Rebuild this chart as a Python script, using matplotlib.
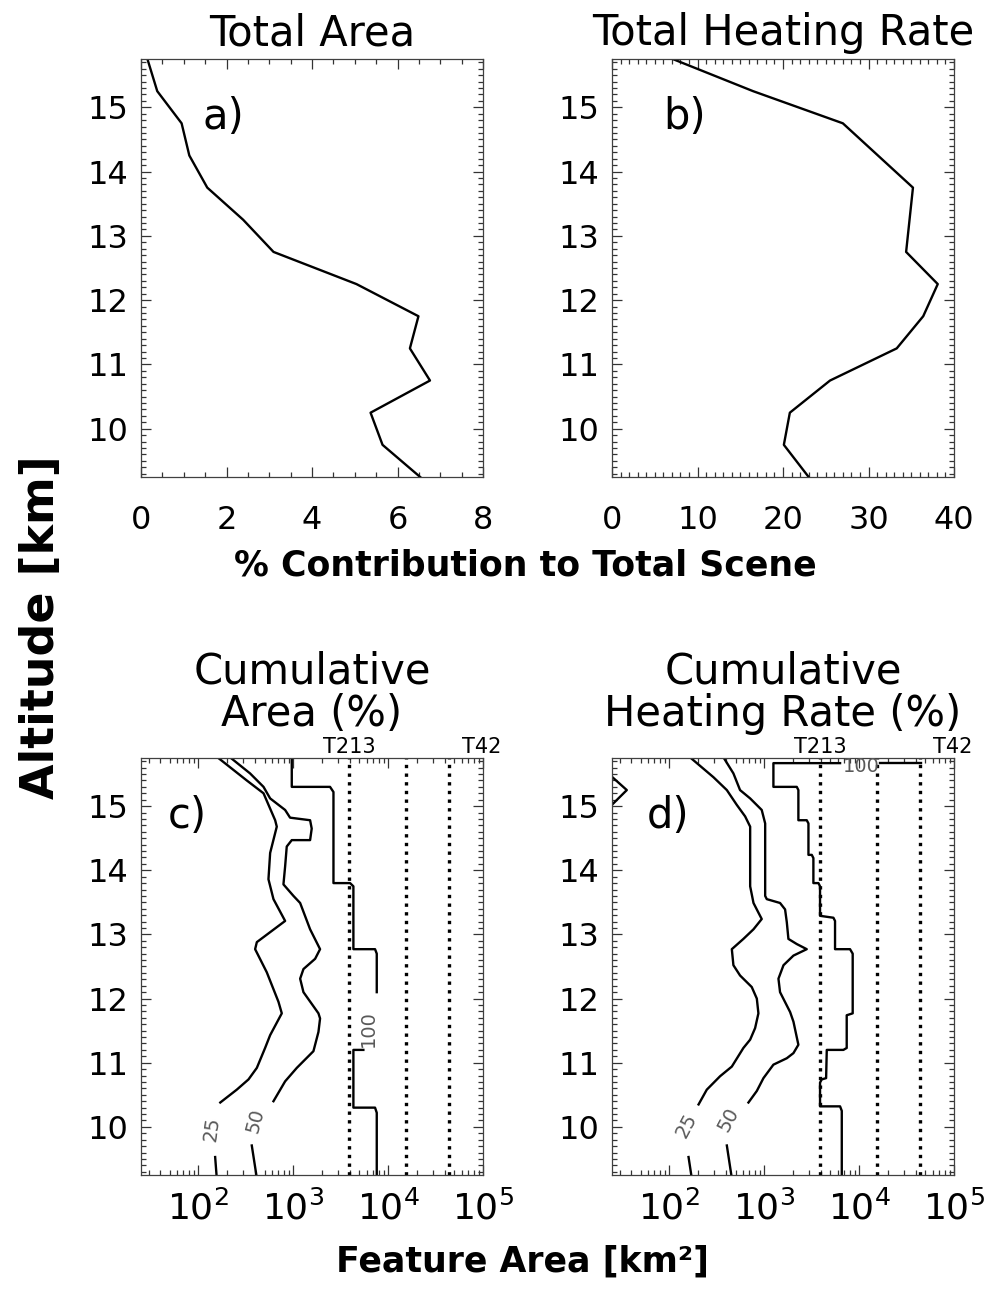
import numpy as np
import matplotlib
matplotlib.use("Agg")
import matplotlib.pyplot as plt
from matplotlib.ticker import MultipleLocator, LogLocator, FixedLocator, NullFormatter

# altitude levels (km) for the two profile panels
alt_levels = [9.25, 9.75, 10.25, 10.75, 11.25, 11.75, 12.25, 12.75,
              13.25, 13.75, 14.25, 14.75, 15.25, 15.75]
area_pct = [6.53, 5.65, 5.37, 6.76, 6.29, 6.49, 5.04, 3.10,
            2.39, 1.55, 1.13, 0.95, 0.38, 0.15]
heat_pct = [23.0, 20.1, 20.8, 25.5, 33.3, 36.4, 38.1, 34.4,
            34.8, 35.2, 31.1, 27.0, 16.5, 7.1]

# model grid box areas (km^2) shown as dotted lines
res_area = [3906, 15625, 43403]
res_label_names = ['T213', 'T42']
res_label_area = [3906, 97656]

# panel c contours (feature area km^2 vs altitude km)
c25_area = [160, 325, 488, 647, 673, 573, 550, 621, 824, 415, 398, 528, 701,
            760, 573, 507, 415, 339, 255, 171]
c25_alt = [15.76, 15.40, 15.20, 14.78, 14.68, 14.27, 13.86, 13.55, 13.21, 12.88,
           12.77, 12.41, 11.95, 11.77, 11.43, 11.23, 10.92, 10.74, 10.58, 10.38]
c25b_area = [151, 157]
c25b_alt = [9.53, 9.20]
c50_area = [217, 352, 488, 573, 824, 929, 1510, 1570, 1510, 968, 857, 824, 791,
            1009, 1186, 1510, 1923, 1706, 1285, 1186, 1285, 1849, 1923, 1849,
            1637, 1094, 824, 621]
c50_alt = [15.76, 15.51, 15.30, 15.12, 14.94, 14.82, 14.78, 14.65, 14.47, 14.47,
           14.37, 14.06, 13.78, 13.60, 13.49, 13.08, 12.77, 12.62, 12.46, 12.31,
           12.10, 11.77, 11.69, 11.48, 11.18, 10.92, 10.71, 10.40]
c50b_area = [367, 415]
c50b_alt = [9.71, 9.20]
c100_area = [968, 968, 2449, 2661, 2661, 3981, 4315, 4315, 7295, 7603, 7603]
c100_alt = [15.80, 15.30, 15.30, 15.22, 13.80, 13.80, 13.75, 12.77, 12.77, 12.70, 12.10]
c100b_area = [5495, 4315, 4315, 7295, 7603, 7603]
c100b_alt = [11.20, 11.20, 10.30, 10.30, 10.22, 9.20]

# panel d contours
d25s_area = [22, 35.8, 22]
d25s_alt = [15.53, 15.25, 14.94]
d25_area = [166, 293, 405, 515, 631, 713, 713, 773, 871, 944, 773, 605, 457, 475,
            558, 741, 838, 871, 804, 713, 605, 457, 344, 249, 204]
d25_alt = [15.76, 15.45, 15.25, 15.02, 14.84, 14.68, 13.75, 13.49, 13.34, 13.24,
           13.08, 12.93, 12.77, 12.52, 12.36, 12.18, 12.00, 11.77, 11.54, 11.36,
           11.23, 10.94, 10.79, 10.58, 10.35]
d25b_area = [160, 173]
d25b_alt = [9.53, 9.20]
d50_area = [373, 475, 558, 713, 944, 1026, 1026, 1067, 1472, 1663, 1734, 1803,
            2208, 2812, 2037, 1600, 1416, 1472, 1879, 2037, 2296, 2037, 1734,
            1253, 984, 838, 684]
d50_alt = [15.76, 15.51, 15.25, 15.12, 14.94, 14.73, 13.60, 13.55, 13.49, 13.39,
           13.19, 12.93, 12.85, 12.77, 12.67, 12.52, 12.31, 12.10, 11.79, 11.64,
           11.28, 11.15, 11.07, 10.97, 10.76, 10.56, 10.38]
d50b_area = [405, 457]
d50b_alt = [9.71, 9.20]
d100_area = [6310, 1253, 1253, 2208, 2296, 2296, 2812, 2931, 2931, 3177, 3304,
             3304, 3733, 3882, 3882, 5370, 5585, 5585, 8035, 8570, 8570, 7413,
             7413, 6839, 4571, 4498, 4046, 3882, 3882, 6310, 6577, 6577]
d100_alt = [15.67, 15.67, 15.30, 15.30, 15.25, 14.78, 14.78, 14.73, 14.24, 14.24,
            14.19, 13.80, 13.80, 13.75, 13.29, 13.26, 13.21, 12.77, 12.77, 12.70,
            11.77, 11.74, 11.23, 11.20, 11.20, 10.76, 10.74, 10.69, 10.32, 10.32,
            10.25, 9.20]
d100t_area = [16634, 44566]
d100t_alt = [15.67, 15.67]

plt.rcParams['font.family'] = ['DejaVu Sans']

W, H = 989, 1289
fig = plt.figure(figsize=(W / 100, H / 100), dpi=100)


def px_axes(x0, y0, x1, y1):
    return fig.add_axes([x0 / W, 1 - y1 / H, (x1 - x0) / W, (y1 - y0) / H])


ax_a = px_axes(141, 59, 483, 477)
ax_b = px_axes(612, 59, 954, 477)
ax_c = px_axes(141, 758, 483, 1175)
ax_d = px_axes(612, 758, 954, 1175)

LW = 1.7
for ax in (ax_a, ax_b, ax_c, ax_d):
    ax.set_ylim(9.25, 15.75)
    ax.yaxis.set_major_locator(FixedLocator([10, 11, 12, 13, 14, 15]))
    ax.yaxis.set_minor_locator(MultipleLocator(0.1))
    ax.tick_params(which='both', direction='in', top=True, right=True, width=0.9,
                   color='0.2')
    ax.tick_params(which='major', length=7, labelsize=23)
    ax.tick_params(which='minor', length=3.5)
    ax.tick_params(axis='y', pad=9)
    for s in ax.spines.values():
        s.set_linewidth(0.9)
        s.set_color('0.25')

# panel a
ax_a.plot(area_pct, alt_levels, color='k', lw=LW)
ax_a.set_xlim(0, 8)
ax_a.xaxis.set_major_locator(MultipleLocator(2))
ax_a.xaxis.set_minor_locator(MultipleLocator(0.5))
ax_a.tick_params(axis='x', pad=20)

# panel b
ax_b.plot(heat_pct, alt_levels, color='k', lw=LW)
ax_b.set_xlim(0, 40)
ax_b.xaxis.set_major_locator(MultipleLocator(10))
ax_b.xaxis.set_minor_locator(MultipleLocator(1))
ax_b.tick_params(axis='x', pad=20)

# panels c, d
lab_col = '0.35'
for ax in (ax_c, ax_d):
    ax.set_xscale('log')
    ax.set_xlim(25, 1e5)
    ax.xaxis.set_major_locator(LogLocator(base=10, numticks=10))
    ax.xaxis.set_minor_locator(LogLocator(base=10, subs=np.arange(2, 10), numticks=20))
    ax.xaxis.set_minor_formatter(NullFormatter())
    ax.tick_params(axis='x', pad=11, labelsize=26)
    for r in res_area:
        ax.axvline(r, color='k', lw=2.4, ls=(0, (1, 1.6)), dash_capstyle='butt')
    for name, r in zip(res_label_names, res_label_area):
        ax.text(r, 1.003, name, transform=ax.get_xaxis_transform(), ha='center',
                va='bottom', fontsize=15)

ax_c.plot(c25_area, c25_alt, 'k', lw=LW)
ax_c.plot(c25b_area, c25b_alt, 'k', lw=LW)
ax_c.plot(c50_area, c50_alt, 'k', lw=LW)
ax_c.plot(c50b_area, c50b_alt, 'k', lw=LW)
ax_c.plot(c100_area, c100_alt, 'k', lw=LW)
ax_c.plot(c100b_area, c100b_alt, 'k', lw=LW)
ax_c.text(139, 9.97, '25', rotation=82, ha='center', va='center', fontsize=14, color=lab_col)
ax_c.text(398, 10.09, '50', rotation=75, ha='center', va='center', fontsize=14, color=lab_col)
ax_c.text(6209, 11.54, '100', rotation=90, ha='center', va='center', fontsize=14, color=lab_col)

ax_d.plot(d25s_area, d25s_alt, 'k', lw=LW)
ax_d.plot(d25_area, d25_alt, 'k', lw=LW)
ax_d.plot(d25b_area, d25b_alt, 'k', lw=LW)
ax_d.plot(d50_area, d50_alt, 'k', lw=LW)
ax_d.plot(d50b_area, d50b_alt, 'k', lw=LW)
ax_d.plot(d100_area, d100_alt, 'k', lw=LW)
ax_d.plot(d100t_area, d100t_alt, 'k', lw=LW)
ax_d.text(153, 10.02, '25', rotation=62, ha='center', va='center', fontsize=14, color=lab_col)
ax_d.text(422, 10.12, '50', rotation=62, ha='center', va='center', fontsize=14, color=lab_col)
ax_d.text(10666, 15.62, '100', ha='center', va='center', fontsize=14, color=lab_col,
          clip_on=True)

# titles
tfs = 30
ax_a.text(0.5, 1.033, 'Total Area', transform=ax_a.transAxes, ha='center', va='baseline', fontsize=tfs)
ax_b.text(0.5, 1.033, 'Total Heating Rate', transform=ax_b.transAxes, ha='center', va='baseline', fontsize=tfs)
ax_c.text(0.5, 1.178, 'Cumulative', transform=ax_c.transAxes, ha='center', va='baseline', fontsize=tfs)
ax_c.text(0.5, 1.076, 'Area (%)', transform=ax_c.transAxes, ha='center', va='baseline', fontsize=tfs)
ax_d.text(0.5, 1.178, 'Cumulative', transform=ax_d.transAxes, ha='center', va='baseline', fontsize=tfs)
ax_d.text(0.5, 1.076, 'Heating Rate (%)', transform=ax_d.transAxes, ha='center', va='baseline', fontsize=tfs)

# panel letters
for ax, lab, x in ((ax_a, 'a)', 0.18), (ax_b, 'b)', 0.149), (ax_c, 'c)', 0.079), (ax_d, 'd)', 0.102)):
    ax.text(x, 0.832, lab, transform=ax.transAxes, ha='left', va='baseline', fontsize=tfs)

# axis labels
fig.text(525 / W, 1 - 575 / H, '% Contribution to Total Scene', ha='center', va='baseline',
         fontsize=25, fontweight='bold')
fig.text(42 / W, 1 - 627 / H, 'Altitude [km]', ha='center', va='center', rotation=90,
         fontsize=33, fontweight='bold')
fig.text(522 / W, 1 - 1272 / H, 'Feature Area [km²]', ha='center', va='baseline',
         fontsize=25, fontweight='bold')

fig.savefig('out.png', dpi=100, facecolor='white')
